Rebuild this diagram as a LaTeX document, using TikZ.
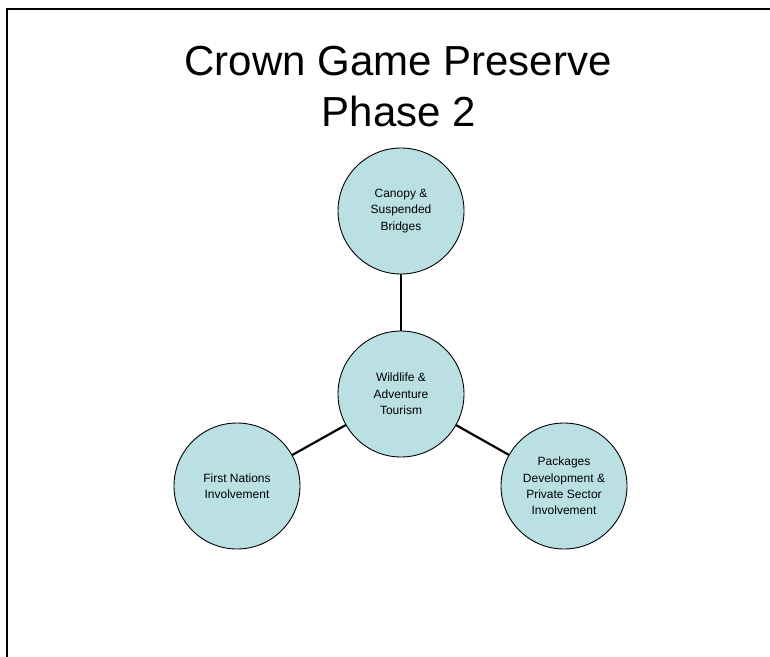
\documentclass[tikz,border=0pt]{standalone}
\usepackage{fontspec}
\setmainfont{Liberation Sans}
\usepackage{tikz}
\definecolor{paleteal}{RGB}{187,224,228}

\begin{document}
\begin{tikzpicture}[x=1pt, y=-1pt,
	topic/.style={draw, circle, fill=paleteal, line width=0.9pt,
		minimum size=126pt, inner sep=0pt, align=center,
		font=\fontsize{12}{16.4}\selectfont},
	heading/.style={anchor=base, font=\fontsize{42}{51}\selectfont},
	link/.style={line width=2.2pt}]
  \clip (0,0) rectangle (770,656);
  \draw[line width=2.2pt] (7,9) rectangle (800,700);
  \node[heading] (title) at (398,75) {Crown Game Preserve};
  \node[heading] (phase) at (399,126) {Phase 2};
  \node[topic] (hub) at (401,394) {Wildlife \&\\ Adventure\\ Tourism};
  \node[topic] (canopy) at (401,211) {Canopy \&\\ Suspended\\ Bridges};
  \node[topic] (nations) at (237,486) {First Nations\\ Involvement};
  \node[topic] (packages) at (564,486) {Packages\\ Development \&\\ Private Sector\\ Involvement};
  \draw[link] (hub) -- (canopy);
  \draw[link] (hub) -- (nations);
  \draw[link] (hub) -- (packages);
\end{tikzpicture}
\end{document}
